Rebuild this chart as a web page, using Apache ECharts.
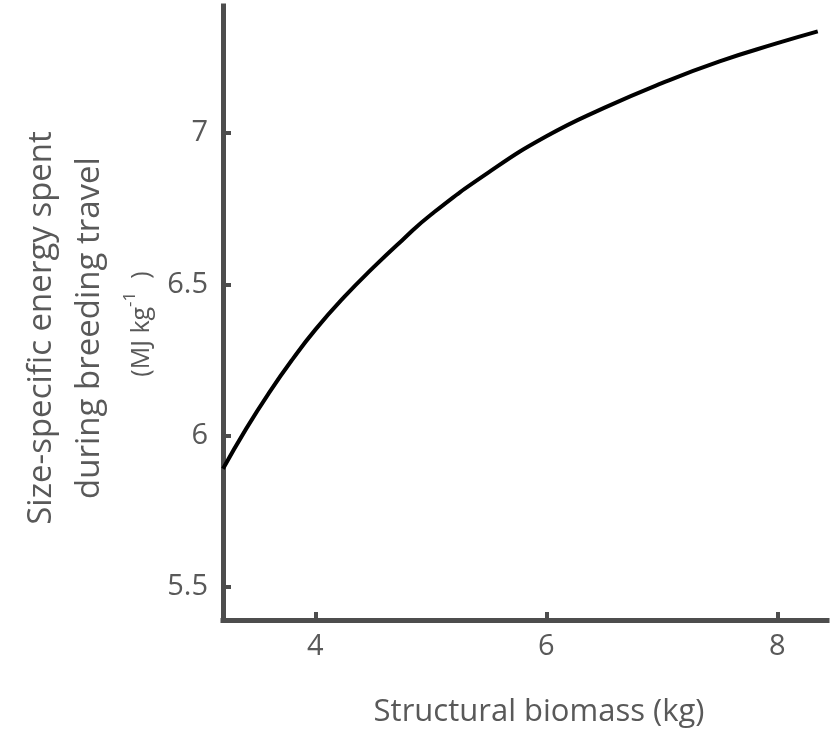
<!DOCTYPE html>
<html>
<head>
<meta charset="utf-8">
<script src="https://cdn.jsdelivr.net/npm/echarts@6/dist/echarts.min.js"></script>
<style>html,body{margin:0;padding:0;background:#fff;}#c{width:832px;height:732px;}</style>
</head>
<body>
<div id="c"></div>
<script>
// Structural biomass (kg)
const biomass = [3.2, 3.4, 3.6, 3.8, 4.0, 4.25, 4.5, 4.75, 5.0, 5.5, 6.0, 6.5, 7.0, 7.5, 8.0, 8.35];
// Size-specific energy spent during breeding travel (MJ kg^-1)
const energy = [5.89, 6.022, 6.142, 6.251, 6.35, 6.458, 6.555, 6.645, 6.73, 6.87, 6.989, 7.083, 7.165, 7.237, 7.297, 7.336];
const xTicks = [4, 6, 8];
const yTicks = [5.5, 6, 6.5, 7];
const xTitle = 'Structural biomass (kg)';
const yTitleLines = ['Size-specific energy spent', 'during breeding travel'];

const FONT = '"Open Sans", "Noto Sans", sans-serif';
const GREY = '#4d4d4d';
const TXT = '#595959';

const chart = echarts.init(document.getElementById('c'), null, {renderer: 'canvas'});
const axisCommon = {
  axisLine: {show: true, lineStyle: {color: GREY, width: 5, cap: 'square'}},
  splitLine: {show: false},
  axisTick: {show: true, inside: true, length: 8, lineStyle: {color: GREY, width: 4}},
  axisLabel: {color: TXT, fontSize: 29, fontFamily: FONT, margin: 14}
};
chart.setOption({
  animation: false,
  grid: {left: 223, right: 5, top: 6, bottom: 112, containLabel: false},
  xAxis: Object.assign({}, axisCommon, {
    type: 'value', min: 3.2, max: 8.43,
    axisTick: Object.assign({}, axisCommon.axisTick, {customValues: xTicks}),
    axisLabel: Object.assign({}, axisCommon.axisLabel, {customValues: xTicks, margin: 12})
  }),
  yAxis: Object.assign({}, axisCommon, {
    type: 'value', min: 5.39, max: 7.42,
    axisTick: Object.assign({}, axisCommon.axisTick, {customValues: yTicks}),
    axisLabel: Object.assign({}, axisCommon.axisLabel, {customValues: yTicks, margin: 15})
  }),
  series: [{
    type: 'line',
    data: biomass.map((b, i) => [b, energy[i]]),
    smooth: true,
    showSymbol: false,
    lineStyle: {color: '#000', width: 4},
    clip: false
  }],
  graphic: [
    {type: 'text', x: 539, y: 712,
     style: {text: xTitle, fill: TXT, font: '31px ' + FONT, align: 'center', verticalAlign: 'middle'}},
    {type: 'text', x: 42, y: 328, rotation: Math.PI / 2,
     style: {text: yTitleLines[0], fill: TXT, font: '33px ' + FONT, align: 'center', verticalAlign: 'middle'}},
    {type: 'text', x: 90, y: 328, rotation: Math.PI / 2,
     style: {text: yTitleLines[1], fill: TXT, font: '33px ' + FONT, align: 'center', verticalAlign: 'middle'}},
    {type: 'text', x: 138, y: 324, rotation: Math.PI / 2,
     style: {text: '{n|(MJ kg}{s|-1}{n|  )}', fill: TXT, align: 'center', verticalAlign: 'middle',
       rich: {n: {fontSize: 25, fontFamily: FONT, fill: TXT, verticalAlign: 'bottom', lineHeight: 32},
              s: {fontSize: 17, fontFamily: FONT, fill: TXT, verticalAlign: 'top', lineHeight: 32}}}}
  ]
});
</script>
</body>
</html>
